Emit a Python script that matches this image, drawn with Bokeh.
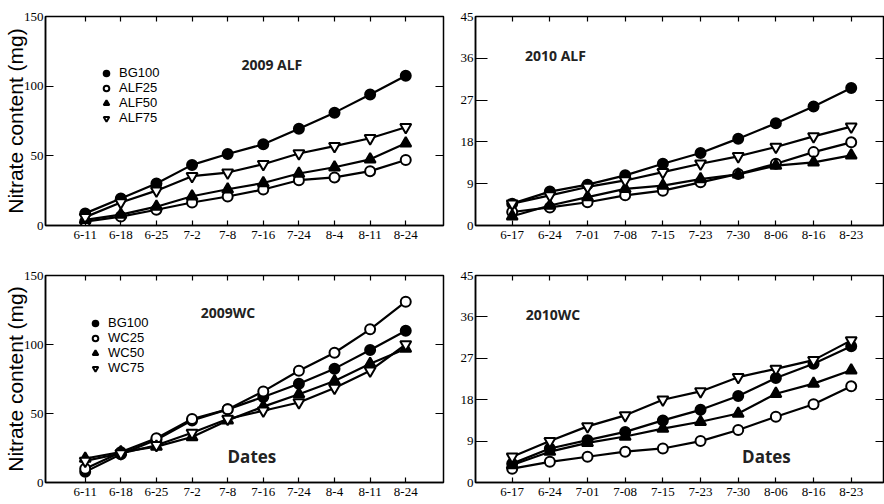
from bokeh.plotting import figure
from bokeh.models import (FixedTicker, LinearAxis, Range1d, Legend, LegendItem, Label)
from bokeh.layouts import row, column
from bokeh.embed import file_html
from bokeh.resources import INLINE

# ---------------- data ----------------
dates_2009 = ["6-11", "6-18", "6-25", "7-2", "7-8", "7-16", "7-24", "8-4", "8-11", "8-24"]
dates_2010 = ["6-17", "6-24", "7-01", "7-08", "7-15", "7-23", "7-30", "8-06", "8-16", "8-23"]

alf2009_bg100 = [8.7, 19.4, 30.2, 43.5, 51.3, 58.3, 69.5, 81.0, 94.0, 107.5]
alf2009_alf25 = [2.8, 6.4, 11.3, 16.5, 20.8, 25.8, 32.5, 34.5, 39.0, 47.0]
alf2009_alf50 = [4.0, 7.8, 13.5, 21.0, 26.0, 30.5, 37.3, 41.8, 47.5, 59.0]
alf2009_alf75 = [6.0, 16.5, 25.0, 35.4, 38.0, 44.0, 51.7, 57.0, 62.6, 70.5]

alf2010_bg100 = [4.7, 7.3, 8.8, 10.8, 13.3, 15.6, 18.7, 22.0, 25.6, 29.6]
alf2010_alf25 = [2.9, 3.9, 5.0, 6.5, 7.5, 9.3, 11.1, 13.3, 15.8, 17.9]
alf2010_alf50 = [2.0, 4.3, 6.1, 7.9, 8.6, 10.0, 11.0, 12.9, 13.6, 15.1]
alf2010_alf75 = [4.7, 6.5, 8.3, 9.7, 11.5, 13.3, 14.9, 16.9, 19.2, 21.3]

wc2009_bg100 = [7.7, 20.5, 31.0, 45.0, 53.0, 62.0, 71.6, 82.5, 96.0, 110.0]
wc2009_wc25 = [10.0, 22.0, 32.0, 46.0, 53.0, 66.0, 81.0, 94.0, 111.0, 131.0]
wc2009_wc50 = [17.4, 22.0, 26.0, 33.0, 45.0, 55.0, 64.0, 73.5, 86.0, 97.0]
wc2009_wc75 = [15.7, 21.0, 27.0, 36.0, 46.0, 52.0, 58.0, 68.5, 81.0, 100.0]

wc2010_bg100 = [4.1, 7.4, 9.2, 11.0, 13.5, 15.8, 18.8, 22.7, 25.8, 29.6]
wc2010_wc25 = [3.0, 4.5, 5.6, 6.7, 7.4, 9.0, 11.4, 14.3, 17.0, 20.9]
wc2010_wc50 = [3.8, 6.7, 8.6, 10.0, 11.7, 13.2, 15.0, 19.3, 21.5, 24.4]
wc2010_wc75 = [5.6, 9.0, 12.2, 14.6, 18.0, 19.8, 22.9, 24.7, 26.6, 30.9]

ticks_2009_y = [0, 50, 100, 150]
ticks_2010_y = [0, 9, 18, 27, 36, 45]

# marker styles: (marker, fill)
STYLES = [("circle", "black"), ("circle", "white"), ("triangle", "black"), ("inverted_triangle", "white")]

TICK_FONT = "Liberation Sans Narrow"
LABEL_FONT = "Liberation Sans"
BOLD_FONT = "Open Sans"


def make_panel(dates, series, names, y_max, y_ticks, width, height, borders, x_rng,
               ytick_len, title, title_xy, dates_xy=None, ylabel=None, legend_loc=None):
    bl, br, bt, bb = borders
    p = figure(width=width, height=height, x_range=Range1d(*x_rng), y_range=Range1d(0, y_max),
               output_backend="svg", toolbar_location=None,
               min_border_left=bl, min_border_right=br, min_border_top=bt, min_border_bottom=bb)
    p.grid.visible = False
    p.outline_line_color = "black"
    p.outline_line_width = 1.5
    p.background_fill_color = "white"
    p.border_fill_color = "white"

    xs = list(range(len(dates)))
    xt = FixedTicker(ticks=xs)
    yt = FixedTicker(ticks=y_ticks)

    xa = p.xaxis[0]
    xa.ticker = xt
    xa.major_label_overrides = {i: d for i, d in enumerate(dates)}
    ya = p.yaxis[0]
    ya.ticker = yt
    for ax, tin in ((xa, 5), (ya, ytick_len)):
        ax.major_tick_in = tin
        ax.major_tick_out = 0
        ax.minor_tick_line_color = None
        ax.axis_line_width = 1.5
        ax.major_tick_line_width = 1.2
        ax.major_label_text_font = TICK_FONT
        ax.major_label_text_font_size = "13px"
        ax.major_label_text_color = "black"
    xa.major_label_standoff = 5
    ya.major_label_standoff = 2
    if ylabel:
        ya.axis_label = ylabel
        ya.axis_label_text_font = LABEL_FONT
        ya.axis_label_text_font_size = "21px"
        ya.axis_label_text_font_style = "normal"
        ya.axis_label_text_color = "black"
        ya.axis_label_standoff = -6

    top = LinearAxis(ticker=FixedTicker(ticks=xs), major_tick_in=5, major_tick_out=0,
                     minor_tick_line_color=None, axis_line_color=None,
                     major_label_text_font_size="0px", major_label_standoff=0,
                     major_label_overrides={i: "" for i in xs}, major_tick_line_width=1.2)
    p.add_layout(top, "above")
    right = LinearAxis(ticker=FixedTicker(ticks=y_ticks), major_tick_in=8, major_tick_out=0,
                       minor_tick_line_color=None, axis_line_color=None,
                       major_label_text_font_size="0px", major_label_standoff=0,
                       major_label_overrides={t: "" for t in y_ticks}, major_tick_line_width=1.2)
    p.add_layout(right, "right")

    marker_renderers = []
    for vals, (mk, fill) in zip(series, STYLES):
        p.line(xs, vals, line_color="black", line_width=2.2)
        size = 10 if mk == "circle" else 11
        r = p.scatter(xs, vals, marker=mk, size=size, fill_color=fill,
                      line_color="black", line_width=2)
        marker_renderers.append(r)

    p.add_layout(Label(x=title_xy[0], y=title_xy[1], text=title, text_font=BOLD_FONT,
                       text_font_style="bold", text_font_size="14px", text_align="center",
                       text_baseline="middle", text_color="#222222"))
    if dates_xy:
        p.add_layout(Label(x=dates_xy[0], y=dates_xy[1], text="Dates", text_font=BOLD_FONT,
                           text_font_style="bold", text_font_size="17px", text_align="center",
                           text_baseline="middle", text_color="#222222"))
    if legend_loc:
        items = [LegendItem(label=n, renderers=[r]) for n, r in zip(names, marker_renderers)]
        leg = Legend(items=items, location=legend_loc, border_line_color=None,
                     background_fill_alpha=0, padding=0, margin=0, spacing=0,
                     glyph_height=14, glyph_width=18, label_standoff=4, label_height=10,
                     label_text_font=LABEL_FONT, label_text_font_size="13px",
                     label_text_color="black", label_text_line_height=0.8)
        p.add_layout(leg, "center")
    return p


x09 = (-1.115, 10.06)
x10 = (-0.974, 9.857)

tl = make_panel(dates_2009, [alf2009_bg100, alf2009_alf25, alf2009_alf50, alf2009_alf75],
                ["BG100", "ALF25", "ALF50", "ALF75"], 150, ticks_2009_y, 448, 252,
                (42, 5, 16, 24), x09, 8, "2009 ALF", (5.24, 115.3),
                ylabel="Nitrate content (mg)", legend_loc=(52, 100))
tr = make_panel(dates_2010, [alf2010_bg100, alf2010_alf25, alf2010_alf50, alf2010_alf75],
                ["BG100", "ALF25", "ALF50", "ALF75"], 45, ticks_2010_y, 436, 252,
                (27, 1, 16, 27), x10, 12, "2010 ALF", (1.15, 36.6))
bl = make_panel(dates_2009, [wc2009_bg100, wc2009_wc25, wc2009_wc50, wc2009_wc75],
                ["BG100", "WC25", "WC50", "WC75"], 150, ticks_2009_y, 448, 252,
                (42, 5, 23, 22), x09, 8, "2009WC", (4.01, 123.2), dates_xy=(4.68, 18.8),
                ylabel="Nitrate content (mg)", legend_loc=(41, 107))
br = make_panel(dates_2010, [wc2010_bg100, wc2010_wc25, wc2010_wc50, wc2010_wc75],
                ["BG100", "WC25", "WC50", "WC75"], 45, ticks_2010_y, 436, 252,
                (27, 1, 22, 22), x10, 12, "2010WC", (1.08, 36.6), dates_xy=(6.75, 5.6))

layout = column(row(tl, tr), row(bl, br))
open("out.html", "w").write(file_html(layout, INLINE))
